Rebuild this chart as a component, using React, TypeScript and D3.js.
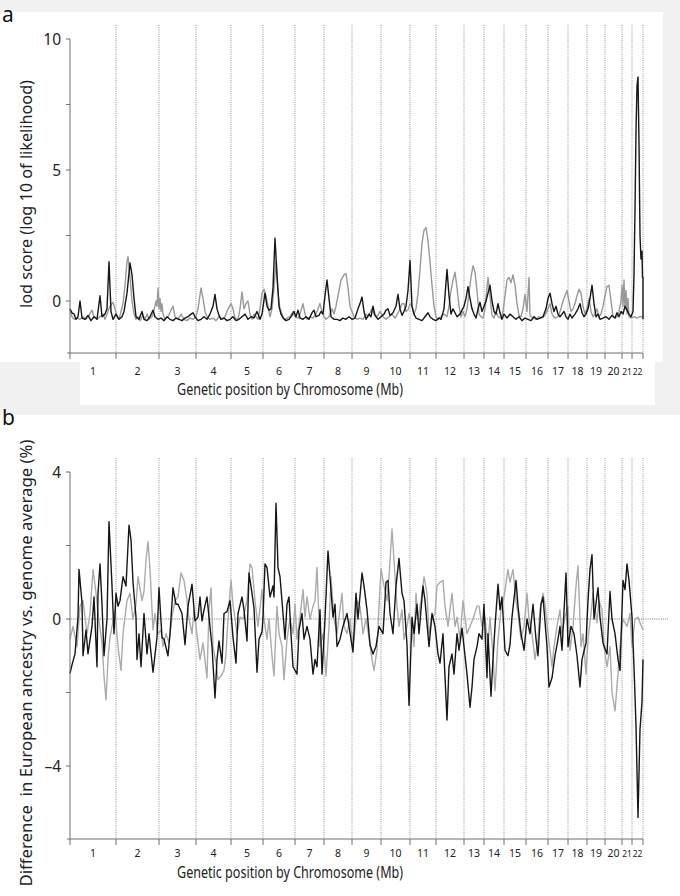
import * as d3 from 'd3';
import React from 'react';

// chromosome names and their genetic lengths (cM)
const chromNames = ['1','2','3','4','5','6','7','8','9','10','11','12','13','14','15','16','17','18','19','20','21','22'];
const chromLengths = [276, 258, 222, 210, 192, 192, 174, 168, 174, 174, 156, 168, 120, 120, 132, 132, 120, 114, 108, 102, 60, 66];

// panel a: lod score, [genome position, value]
const lodBlack = [
  [0,-0.3],[12,-0.45],[24,-0.5],[36,-0.7],[48,-0.6],[60,0],[72,-0.65],[90,-0.7],[108,-0.55],[126,-0.75],
  [144,-0.6],[162,-0.7],[180,0.2],[192,-0.6],[210,-0.5],[222,-0.3],[234,1.5],[246,-0.4],[258,-0.7],[276,-0.5],
  [294,-0.7],[312,-0.6],[324,-0.4],[342,0.3],[360,1.45],[372,1.0],[384,0.1],[396,-0.6],[414,-0.7],[432,-0.4],
  [444,-0.7],[462,-0.75],[480,-0.6],[498,-0.35],[510,-0.6],[528,-0.7],[546,-0.65],[564,-0.75],[582,-0.6],[600,-0.7],
  [618,-0.75],[636,-0.65],[654,-0.7],[672,-0.75],[690,-0.65],[708,-0.6],[726,-0.5],[738,-0.45],[750,-0.6],[768,-0.75],
  [786,-0.7],[804,-0.6],[822,-0.7],[840,-0.5],[858,-0.2],[870,0.25],[882,-0.3],[894,-0.55],[906,-0.7],[924,-0.65],
  [942,-0.75],[960,-0.7],[978,-0.6],[996,-0.75],[1014,-0.7],[1032,-0.6],[1050,-0.5],[1068,-0.7],[1086,-0.6],[1104,-0.65],
  [1122,-0.4],[1140,-0.7],[1152,-0.5],[1170,0.3],[1182,-0.2],[1194,-0.35],[1206,-0.3],[1218,0.5],[1230,2.4],[1242,1.0],
  [1254,-0.2],[1266,-0.5],[1278,-0.65],[1296,-0.75],[1314,-0.7],[1332,-0.55],[1344,-0.4],[1356,-0.6],[1368,-0.35],[1380,-0.65],
  [1398,-0.7],[1416,-0.6],[1434,-0.7],[1452,-0.45],[1464,-0.35],[1476,-0.6],[1494,-0.55],[1506,-0.4],[1518,-0.5],[1530,0.2],
  [1542,0.8],[1554,0.1],[1566,-0.6],[1584,-0.7],[1602,-0.7],[1620,-0.75],[1638,-0.65],[1656,-0.7],[1674,-0.6],[1692,-0.7],
  [1710,-0.65],[1728,-0.3],[1740,-0.1],[1752,0.15],[1764,-0.4],[1776,-0.7],[1794,-0.5],[1806,-0.6],[1818,-0.2],[1830,-0.55],
  [1848,-0.7],[1866,-0.6],[1884,-0.5],[1896,-0.35],[1908,-0.3],[1920,-0.55],[1938,-0.45],[1956,-0.2],[1968,0.25],[1980,-0.3],
  [1992,-0.55],[2004,-0.4],[2016,-0.2],[2028,0.4],[2040,1.55],[2052,-0.2],[2064,-0.5],[2076,-0.65],[2094,-0.7],[2112,-0.75],
  [2130,-0.6],[2148,-0.45],[2160,-0.6],[2178,-0.7],[2196,-0.75],[2214,-0.65],[2226,-0.7],[2244,-0.3],[2256,0.7],[2262,1.2],
  [2274,0.2],[2286,-0.5],[2298,-0.3],[2310,-0.45],[2322,-0.6],[2340,-0.5],[2352,-0.35],[2364,-0.2],[2376,0.1],[2388,0.55],
  [2400,0.1],[2412,-0.3],[2424,-0.5],[2436,-0.65],[2448,-0.3],[2460,-0.05],[2472,-0.4],[2484,-0.2],[2496,0],[2508,0.3],
  [2520,0.6],[2532,0],[2544,-0.4],[2556,-0.5],[2568,-0.1],[2580,-0.45],[2592,-0.7],[2604,-0.5],[2622,-0.65],[2640,-0.5],
  [2658,-0.6],[2676,-0.7],[2694,-0.6],[2712,-0.75],[2730,-0.65],[2748,-0.7],[2766,-0.75],[2784,-0.6],[2802,-0.7],[2820,-0.65],
  [2838,-0.6],[2856,-0.3],[2868,0.1],[2880,0.3],[2892,-0.1],[2904,-0.4],[2916,-0.2],[2928,-0.5],[2940,-0.6],[2952,-0.5],
  [2964,-0.4],[2976,-0.6],[2988,-0.7],[3000,-0.5],[3012,-0.65],[3030,-0.5],[3048,-0.3],[3060,-0.1],[3072,-0.45],[3084,-0.6],
  [3096,-0.5],[3108,-0.3],[3120,0.1],[3132,0.6],[3144,-0.1],[3156,-0.6],[3168,-0.5],[3180,-0.7],[3198,-0.65],[3216,-0.6],
  [3234,-0.7],[3252,-0.55],[3270,-0.65],[3282,-0.45],[3294,-0.6],[3306,-0.4],[3318,-0.5],[3330,-0.2],[3342,-0.35],[3354,-0.5],
  [3366,-0.6],[3378,-0.4],[3384,1.0],[3390,3.5],[3396,6.5],[3402,8.2],[3408,8.55],[3414,6.0],[3420,2.5],[3426,1.6],
  [3432,1.9],[3435,0.9],[3438,0.9],[3438,-0.7]
];
const lodGray = [
  [0,-0.35],[12,-0.6],[24,-0.7],[42,-0.65],[60,-0.7],[78,-0.6],[96,-0.7],[114,-0.55],[132,-0.35],[144,-0.6],
  [162,-0.7],[180,-0.6],[198,-0.5],[210,-0.7],[228,-0.4],[240,-0.2],[258,-0.05],[270,-0.3],[282,-0.6],[294,-0.7],
  [306,-0.4],[318,-0.1],[330,0.6],[342,1.5],[348,1.7],[360,0.9],[372,0],[384,-0.5],[396,-0.7],[408,-0.6],
  [420,-0.75],[438,-0.55],[450,-0.7],[462,-0.5],[474,-0.7],[492,-0.6],[504,-0.35],[516,0],[522,-0.2],[528,0.5],
  [534,-0.3],[540,0.1],[546,-0.4],[552,-0.1],[558,-0.5],[570,-0.7],[588,-0.6],[606,-0.35],[618,-0.2],[630,-0.6],
  [648,-0.7],[666,-0.5],[684,-0.7],[702,-0.75],[720,-0.65],[738,-0.7],[756,-0.6],[768,-0.3],[786,0.5],[798,0.1],
  [810,-0.4],[822,-0.6],[840,-0.7],[858,-0.65],[876,-0.75],[894,-0.6],[912,-0.7],[930,-0.6],[948,-0.3],[966,-0.1],
  [978,-0.3],[990,-0.65],[1008,-0.7],[1020,-0.3],[1032,0.35],[1044,-0.3],[1056,-0.1],[1068,0],[1080,-0.5],[1092,-0.7],
  [1104,-0.5],[1116,-0.6],[1128,-0.7],[1140,-0.3],[1152,0.3],[1164,0.45],[1176,0.2],[1188,-0.2],[1200,-0.6],[1212,-0.3],
  [1224,0.5],[1236,1.5],[1248,0.3],[1260,-0.3],[1272,-0.5],[1284,-0.7],[1302,-0.65],[1320,-0.6],[1338,-0.4],[1350,-0.6],
  [1368,-0.65],[1380,-0.5],[1398,-0.1],[1410,-0.5],[1422,-0.7],[1440,-0.6],[1458,-0.65],[1476,-0.5],[1488,-0.3],[1500,-0.1],
  [1512,-0.4],[1524,-0.6],[1536,-0.7],[1554,-0.6],[1572,-0.3],[1584,-0.5],[1596,-0.2],[1608,0.2],[1626,0.8],[1644,1.0],
  [1656,1.05],[1668,0.5],[1680,-0.2],[1692,-0.4],[1704,-0.6],[1722,-0.7],[1740,-0.65],[1758,-0.7],[1776,-0.5],[1788,-0.6],
  [1800,-0.45],[1812,-0.3],[1824,-0.5],[1842,-0.6],[1860,-0.4],[1878,-0.6],[1896,-0.7],[1914,-0.6],[1932,-0.5],[1950,-0.65],
  [1968,-0.45],[1980,-0.3],[1992,-0.1],[2004,-0.1],[2016,-0.4],[2028,-0.35],[2040,-0.1],[2052,-0.2],[2064,-0.5],[2076,-0.3],
  [2088,0.3],[2100,1.2],[2112,2.2],[2124,2.7],[2136,2.8],[2148,2.3],[2160,1.5],[2172,0.6],[2184,-0.2],[2196,-0.6],
  [2208,-0.7],[2226,-0.6],[2244,-0.5],[2262,-0.6],[2274,-0.2],[2286,0.4],[2298,0.8],[2310,1.1],[2322,0.5],[2334,-0.2],
  [2346,-0.6],[2358,-0.4],[2370,-0.6],[2382,-0.3],[2394,0.3],[2406,0.9],[2418,1.35],[2430,1.1],[2442,0.4],[2454,-0.5],
  [2466,-0.6],[2478,-0.65],[2490,-0.3],[2502,0.5],[2508,0.9],[2520,0.2],[2532,-0.55],[2544,-0.65],[2556,-0.4],[2568,-0.6],
  [2586,-0.65],[2598,-0.4],[2610,0.2],[2622,0.8],[2634,0.9],[2646,0.7],[2658,1.0],[2670,0.6],[2682,-0.1],[2694,-0.55],
  [2706,-0.6],[2718,-0.3],[2730,0.25],[2742,-0.4],[2754,0.9],[2760,-0.55],[2778,-0.65],[2796,-0.7],[2814,-0.6],[2832,-0.65],
  [2850,-0.55],[2868,-0.3],[2880,-0.1],[2892,-0.5],[2910,-0.65],[2928,-0.6],[2946,-0.3],[2958,0],[2970,0.2],[2982,0.4],
  [2994,0],[3006,-0.4],[3018,-0.3],[3030,-0.1],[3042,0.2],[3054,0.45],[3066,0.3],[3078,-0.2],[3090,-0.5],[3102,-0.3],
  [3114,0.1],[3126,-0.4],[3138,-0.6],[3150,-0.5],[3162,-0.3],[3174,-0.6],[3186,-0.5],[3198,-0.2],[3210,0.2],[3222,0.55],
  [3234,0.6],[3246,0],[3258,-0.6],[3270,-0.65],[3282,-0.6],[3294,-0.4],[3306,0],[3312,0.6],[3318,-0.2],[3324,0.8],
  [3330,-0.3],[3336,0.4],[3342,-0.5],[3348,0.1],[3354,-0.6],[3366,-0.65],[3384,-0.6],[3402,-0.65],[3420,-0.6],[3438,-0.6]
];

// panel b: difference in European ancestry (%), [genome position, value]
const ancBlack = [
  [0,-1.48],[12,-1.25],[30,-0.95],[48,0.05],[54,1.35],[72,0.45],[78,-1.0],[96,-0.3],[108,-0.95],[132,-0.2],
  [144,0.6],[162,-1.3],[168,0.7],[180,1.5],[192,0.4],[204,-1.0],[222,0],[234,2.65],[252,0.9],[264,-0.4],
  [276,0.7],[288,0.35],[300,0.5],[318,1.15],[336,0.9],[354,2.55],[366,2.15],[378,1.0],[396,0.05],[402,-1.1],
  [414,-0.4],[426,-1.3],[444,0.15],[462,-0.95],[474,-0.4],[498,-1.45],[522,-0.5],[534,0.85],[552,-0.5],[564,-0.55],
  [588,-1.0],[600,-0.4],[618,0.85],[636,0.4],[648,0.4],[672,0.15],[690,-0.7],[708,0.35],[732,0.95],[750,-0.05],
  [768,0.05],[780,0.6],[792,-0.05],[804,0.25],[822,0.6],[834,0.05],[852,-0.75],[870,-2.15],[882,-1.1],[894,-0.6],
  [912,-1.2],[924,0.15],[942,0.2],[960,0.5],[978,-0.5],[996,-1.2],[1008,0.15],[1032,0.6],[1044,0.25],[1062,-0.6],
  [1074,1.25],[1092,0.7],[1104,0.3],[1122,-1.45],[1134,-0.55],[1152,-0.35],[1158,0.05],[1170,1.5],[1182,1.4],[1200,0.6],
  [1218,0.9],[1224,0.6],[1236,3.15],[1248,1.4],[1260,1.15],[1278,0.15],[1290,-0.55],[1302,0.4],[1314,0.6],[1326,-0.4],
  [1338,-1.3],[1362,-1.5],[1374,-0.3],[1392,0.15],[1404,-0.55],[1422,-0.2],[1440,-0.55],[1458,-1.5],[1470,-1.1],[1482,-1.3],
  [1500,0.25],[1512,-1.5],[1530,0],[1548,1.85],[1560,1.15],[1578,0.05],[1590,0.4],[1602,-0.75],[1620,-0.55],[1638,-0.2],
  [1662,0.15],[1674,-0.2],[1698,-0.9],[1716,0.7],[1728,0],[1752,1.25],[1764,0.9],[1782,0.25],[1800,-0.7],[1818,-0.95],
  [1836,-0.75],[1854,-0.2],[1878,-0.4],[1896,1.0],[1908,1.05],[1920,0.15],[1938,-0.4],[1956,0.9],[1974,1.65],[1992,0.7],
  [2004,0.5],[2022,-0.7],[2034,-2.35],[2052,0.05],[2064,-0.4],[2082,0.4],[2094,-0.4],[2118,0.9],[2130,0.5],[2154,-0.75],
  [2172,0.15],[2190,-0.2],[2208,-0.95],[2220,-1.2],[2238,-0.4],[2262,-2.75],[2274,-1.3],[2292,-0.95],[2304,-1.5],[2322,-0.4],
  [2334,-0.85],[2352,-0.25],[2364,-0.75],[2382,-1.5],[2400,-2.4],[2412,-1.85],[2424,-1.1],[2442,-0.75],[2454,-0.4],[2472,-0.55],
  [2484,0.4],[2502,-1.6],[2508,-0.4],[2526,-2.1],[2538,-1.1],[2550,-0.2],[2568,0.95],[2580,0.25],[2592,0.6],[2610,-0.85],
  [2628,-1.0],[2640,-0.7],[2652,0.05],[2676,1.05],[2688,0.35],[2706,-0.4],[2724,-0.85],[2742,0],[2760,-0.4],[2778,0.4],
  [2796,-0.55],[2808,-1.0],[2826,0.4],[2838,0.6],[2862,-0.75],[2874,-1.85],[2892,-1.6],[2910,-1.0],[2928,-0.55],[2940,-0.2],
  [2952,-0.85],[2976,1.25],[2988,-0.75],[3006,-0.2],[3024,-0.4],[3042,-1.0],[3060,-1.85],[3072,-1.1],[3096,-0.65],[3108,0.5],
  [3120,1.35],[3132,1.75],[3144,0],[3168,0.85],[3180,0.05],[3198,-0.65],[3222,-0.95],[3240,0.75],[3252,0],[3270,-0.4],
  [3288,-1.1],[3300,-1.4],[3318,1.05],[3330,0.8],[3342,1.5],[3354,1.05],[3372,0.05],[3384,-1.3],[3396,-2.9],[3408,-5.4],
  [3420,-3.0],[3432,-2.25],[3438,-1.1]
];
const ancGray = [
  [0,-0.55],[18,-0.2],[42,-0.75],[60,0.35],[78,0.5],[102,-0.4],[120,0.15],[138,1.35],[156,0.7],[168,0.15],
  [192,-0.65],[204,-1.55],[216,-2.2],[228,-1.1],[240,-0.5],[252,-0.2],[270,0.25],[288,-0.75],[306,-1.4],[318,-0.4],
  [342,0.5],[360,0.7],[378,0],[396,0.4],[408,1.15],[432,0.5],[444,0.75],[456,1.6],[468,2.1],[480,1.35],
  [498,-0.3],[510,0.15],[528,-0.4],[546,-0.3],[558,-0.75],[576,-0.4],[594,-0.65],[612,0.05],[630,0.5],[648,0.6],
  [666,1.25],[684,1.05],[702,0.5],[714,0],[732,-0.4],[744,0.25],[768,-0.65],[780,-1.1],[798,-0.65],[822,-1.6],
  [834,0.25],[846,0.85],[858,-0.75],[876,-1.2],[888,-1.65],[906,-1.55],[924,-1.4],[936,-0.95],[948,0],[966,1.05],
  [978,0.4],[1002,-0.4],[1020,0.05],[1038,0],[1062,0.5],[1080,1.5],[1092,1.4],[1110,0.5],[1128,-0.2],[1152,0.8],
  [1164,0],[1182,-0.55],[1194,0],[1212,-1.0],[1224,-1.55],[1242,0.35],[1254,-0.4],[1272,-0.75],[1284,-1.65],[1302,-0.55],
  [1320,0],[1338,-0.4],[1350,0.4],[1362,-0.55],[1380,0.05],[1398,0.8],[1410,0.05],[1422,0.6],[1440,0],[1458,0.35],
  [1470,0.5],[1482,1.4],[1500,-0.75],[1518,-0.4],[1536,-1.55],[1554,-0.2],[1566,1.15],[1584,0],[1602,-0.4],[1614,0.05],
  [1632,0.7],[1644,-0.2],[1662,-0.4],[1680,0],[1698,-0.75],[1710,-0.3],[1722,0.5],[1740,0.35],[1758,-0.4],[1776,0],
  [1794,-0.5],[1812,-1.1],[1824,-1.4],[1842,-0.85],[1854,0.35],[1866,1.35],[1884,0.9],[1902,0.5],[1914,1.15],[1932,2.45],
  [1944,1.6],[1962,0.35],[1974,-0.2],[1992,0.25],[2004,-0.55],[2022,-0.2],[2034,0.15],[2052,-0.3],[2064,-0.75],[2076,0.7],
  [2088,0],[2106,0.5],[2124,1.15],[2142,0.7],[2154,-0.4],[2172,0],[2190,0.15],[2202,0.9],[2220,1.0],[2238,1.05],
  [2250,0.35],[2268,-0.2],[2280,0.25],[2292,0.7],[2310,-0.2],[2322,0.05],[2340,-0.55],[2358,0.5],[2382,-0.4],[2400,-0.2],
  [2418,0],[2442,0.35],[2454,0.35],[2472,-0.2],[2490,0.05],[2508,-0.75],[2520,0.05],[2538,-1.0],[2550,-1.95],[2568,-0.55],
  [2586,0.25],[2604,0.6],[2628,1.35],[2640,1.0],[2658,1.35],[2676,0.5],[2688,0.15],[2706,-0.55],[2724,-0.2],[2742,0.7],
  [2754,0],[2772,-0.4],[2790,-1.1],[2808,-0.55],[2820,0.25],[2838,0.7],[2850,0.4],[2868,-0.4],[2892,-1.3],[2904,-0.75],
  [2922,-0.2],[2940,0.25],[2952,-0.4],[2970,0.05],[2988,0.35],[3000,-0.85],[3018,-0.2],[3036,0.9],[3048,1.45],[3066,-0.75],
  [3078,-0.4],[3096,-1.5],[3108,-0.55],[3126,0.15],[3138,0.7],[3162,-0.1],[3174,0.5],[3192,0.25],[3204,-0.75],[3222,-1.3],
  [3240,-0.75],[3252,-2.0],[3270,-2.5],[3288,-1.5],[3300,-0.75],[3318,0],[3342,-0.2],[3360,0.15],[3372,-0.75],[3390,0],
  [3408,0.05],[3420,-0.1],[3438,-0.3]
];

const lodTicks = [0, 5, 10];
const lodMinorTicks = [2.5, 7.5];
const ancTicks = [-4, 0, 4];
const ancMinorTicks = [-2, 2];

const font = "'Noto Sans', 'Open Sans', sans-serif";
const axisColor = '#6e6e6e';

const bounds = [0];
chromLengths.forEach((l, i) => bounds.push(bounds[i] + l));
const total = bounds[bounds.length - 1];

const x = d3.scaleLinear().domain([0, total]).range([70, 643]);

function fmt(v) {
  return v < 0 ? '\u2013' + Math.abs(v) : String(v);
}

function Panel({ y, top, axisY, black, gray, grayColor, ticks, minor, zeroLine, labelY, titleY, yTitle, yTitleMid, yTitleLen, yTitleSize }) {
  const line = d3.line().x((d) => x(d[0])).y((d) => y(d[1]));
  const [y0, y1] = y.range();
  return (
    <g>
      {/* chromosome boundaries */}
      {bounds.slice(1).map((b, i) => (
        <line key={'v' + i} x1={x(b)} x2={x(b)} y1={top} y2={axisY}
          stroke="#777" strokeWidth={0.8} strokeDasharray="1,1.2" />
      ))}
      {zeroLine && (
        <line x1={x(0) - 1} x2={668} y1={y(0)} y2={y(0)} stroke="#555" strokeWidth={0.8} strokeDasharray="1,1.2" />
      )}
      <path d={line(gray)} fill="none" stroke={grayColor} strokeWidth={1.4} strokeLinejoin="round" />
      <path d={line(black)} fill="none" stroke="#161616" strokeWidth={1.4} strokeLinejoin="round" />
      {/* y axis */}
      <line x1={x(0)} x2={x(0)} y1={y1} y2={axisY} stroke={axisColor} strokeWidth={1} />
      {ticks.map((t) => (
        <g key={'t' + t}>
          <line x1={x(0) - 4} x2={x(0)} y1={y(t)} y2={y(t)} stroke={axisColor} />
          <text x={x(0) - 9} y={y(t) + 5.5} textAnchor="end" fontSize={15.5} fontFamily={font} fill="#222">{fmt(t)}</text>
        </g>
      ))}
      {minor.map((t) => (
        <line key={'m' + t} x1={x(0) - 4} x2={x(0)} y1={y(t)} y2={y(t)} stroke={axisColor} />
      ))}
      {/* x axis */}
      <line x1={x(0) - 3} x2={x(total)} y1={axisY} y2={axisY} stroke={axisColor} strokeWidth={1} />
      {bounds.map((b, i) => (
        <line key={'xt' + i} x1={x(b)} x2={x(b)} y1={axisY} y2={axisY + 6} stroke={axisColor} />
      ))}
      {chromNames.map((c, i) => (
        <text key={'c' + c} x={x((bounds[i] + bounds[i + 1]) / 2)} y={labelY} textAnchor="middle"
          fontSize={i >= 20 ? 8.5 : 10.5} fontFamily={font} fill="#222">{c}</text>
      ))}
      <text x={290} y={titleY} textAnchor="middle" fontSize={16.5} fontFamily={font} fill="#222"
        textLength={226} lengthAdjust="spacingAndGlyphs">Genetic position by Chromosome (Mb)</text>
      <text transform={`translate(32,${yTitleMid}) rotate(-90)`} textAnchor="middle" fontSize={yTitleSize}
        fontFamily={font} fill="#222" textLength={yTitleLen} lengthAdjust="spacingAndGlyphs"
        style={{ whiteSpace: 'pre' }}>{yTitle}</text>
    </g>
  );
}

export default function App() {
  const yLod = d3.scaleLinear().domain([-2, 10]).range([353.4, 39]);
  const yAnc = d3.scaleLinear().domain([-6, 4]).range([839.5, 472]);

  return (
    <svg width={680} height={896} style={{ position: 'absolute', left: 0, top: 0, background: '#fff' }}>
      <rect x={0} y={0} width={680} height={415} fill="#f1f1f1" />
      <rect x={0} y={12} width={663} height={350} fill="#fff" />
      <rect x={80} y={362} width={575} height={43} fill="#fff" />
      <text x={2} y={22} fontSize={21} fontFamily={font} fill="#111">a</text>
      <text x={2} y={425} fontSize={21} fontFamily={font} fill="#111">b</text>
      <Panel y={yLod} top={25} axisY={353} black={lodBlack} gray={lodGray} grayColor="#999"
        ticks={lodTicks} minor={lodMinorTicks} zeroLine={false} labelY={375} titleY={395}
        yTitle="lod score (log 10 of likelihood)" yTitleMid={194} yTitleLen={228} yTitleSize={16.5} />
      <Panel y={yAnc} top={458} axisY={839} black={ancBlack} gray={ancGray} grayColor="#ababab"
        ticks={ancTicks} minor={ancMinorTicks} zeroLine={true} labelY={857} titleY={878}
        yTitle="Difference  in European ancestry vs. genome average (%)" yTitleMid={663} yTitleLen={447} yTitleSize={17} />
    </svg>
  );
}
